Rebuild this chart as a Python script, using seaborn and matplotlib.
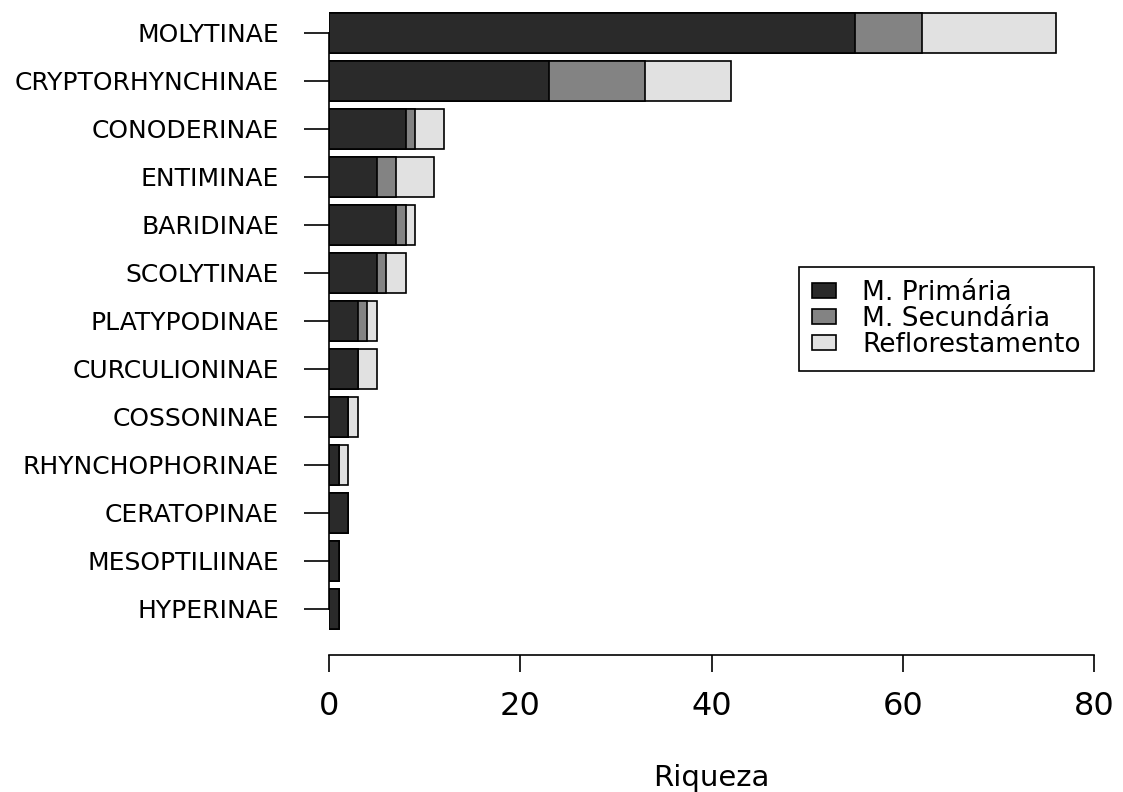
import pandas as pd
import matplotlib
matplotlib.use("Agg")
import matplotlib.pyplot as plt
from matplotlib.patches import Patch
import seaborn as sns

# Subfamilias e riqueza por ambiente
subfamilias = ["MOLYTINAE", "CRYPTORHYNCHINAE", "CONODERINAE", "ENTIMINAE", "BARIDINAE",
               "SCOLYTINAE", "PLATYPODINAE", "CURCULIONINAE", "COSSONINAE",
               "RHYNCHOPHORINAE", "CERATOPINAE", "MESOPTILIINAE", "HYPERINAE"]
primaria = [55, 23, 8, 5, 7, 5, 3, 3, 2, 1, 2, 1, 1]
secundaria = [7, 10, 1, 2, 1, 1, 1, 0, 0, 0, 0, 0, 0]
reflorestamento = [14, 9, 3, 4, 1, 2, 1, 2, 1, 1, 0, 0, 0]

ambientes = ["M. Primária", "M. Secundária", "Reflorestamento"]
cores = ["#2a2a2a", "#838383", "#e1e1e1"]

data = pd.DataFrame({"subfamilia": subfamilias, "prim": primaria,
                     "sec": secundaria, "ref": reflorestamento})
data["ate_sec"] = data["prim"] + data["sec"]
data["total"] = data["ate_sec"] + data["ref"]

sns.set_style("ticks")
plt.rcParams["font.family"] = ["DejaVu Sans"]
plt.rcParams["text.color"] = "black"
plt.rcParams["axes.labelcolor"] = "black"

fig = plt.figure(figsize=(11.23, 7.92), dpi=100)
ax = fig.add_axes([329 / 1123, 1 - 637.8 / 792, 765 / 1123, 633.6 / 792])

# barras empilhadas: desenha do total para o inicio
for col, cor in zip(["total", "ate_sec", "prim"], cores[::-1]):
    sns.barplot(data=data, x=col, y="subfamilia", color=cor, saturation=1,
                edgecolor="black", linewidth=1.2, width=0.83, errorbar=None,
                orient="h", ax=ax)

ax.set_xlim(0, 80)
ax.set_ylim(12.6, -0.6)
ax.set_xticks([0, 20, 40, 60, 80])
ax.set_ylabel("")
ax.set_xlabel("Riqueza", fontsize=21, labelpad=30, color="black")

sns.despine(ax=ax)
ax.spines["left"].set_bounds(0, 12)
ax.spines["bottom"].set_position(("outward", 12.4))
for s in ["left", "bottom"]:
    ax.spines[s].set_linewidth(1.2)
    ax.spines[s].set_color("black")
ax.tick_params(axis="y", length=18, width=1.2, pad=18, labelsize=18, colors="black")
ax.tick_params(axis="x", length=12, width=1.2, pad=14, labelsize=23, colors="black")

handles = [Patch(facecolor=c, edgecolor="black", linewidth=1.2) for c in cores]
leg = fig.legend(handles, ambientes, loc="upper right",
                 bbox_to_anchor=(1094 / 1123, 1 - 267 / 792), fontsize=19,
                 frameon=True, fancybox=False, framealpha=1, edgecolor="black",
                 borderpad=0.5, labelspacing=0.0, handlelength=0.9,
                 handleheight=0.5, handletextpad=1.0, borderaxespad=0,
                 labelcolor="black")
leg.get_frame().set_linewidth(1.2)

plt.savefig("out.png", dpi=100)
